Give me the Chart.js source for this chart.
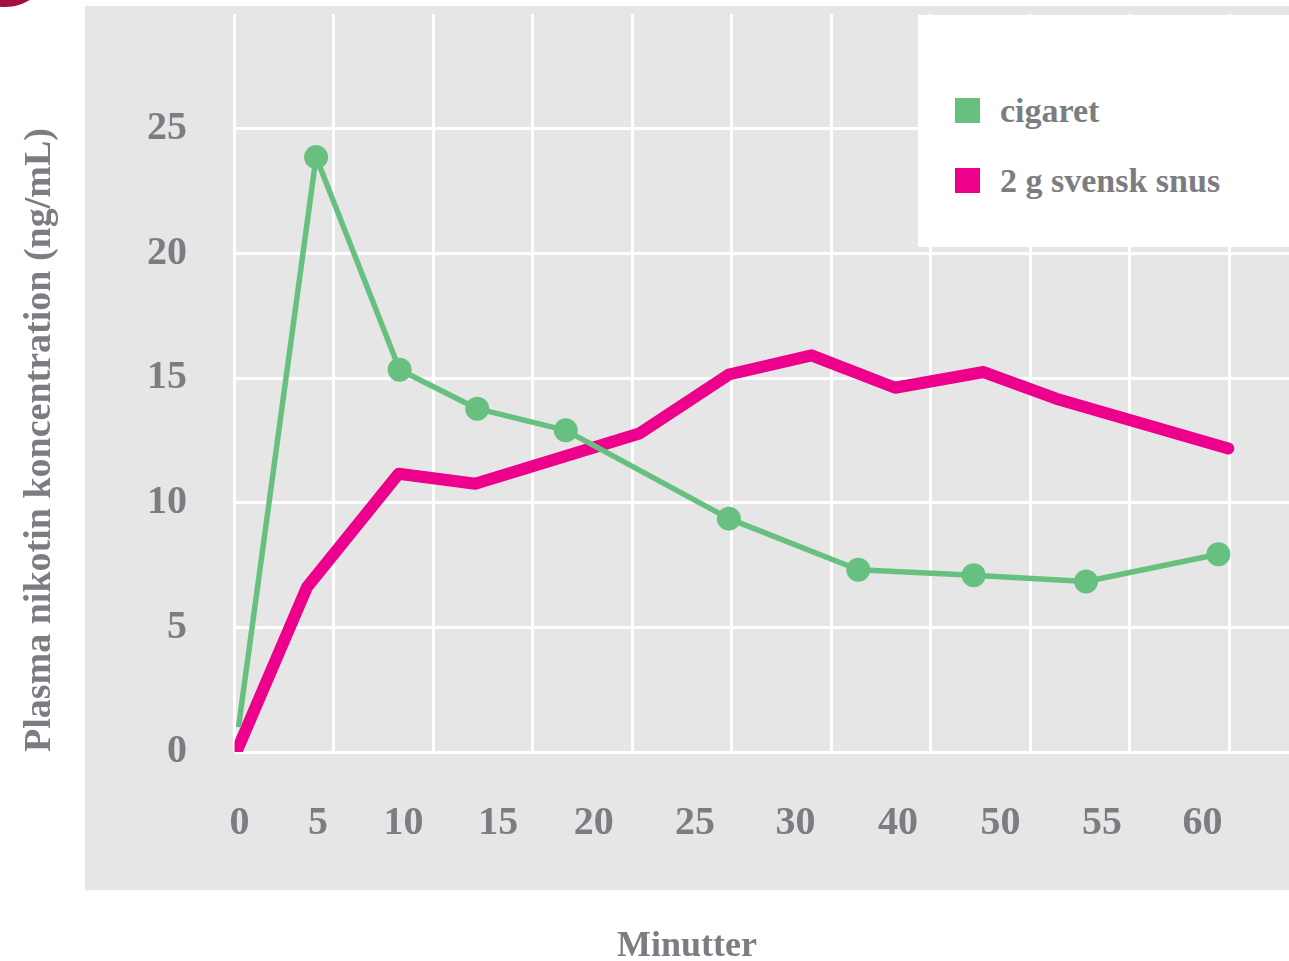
<!DOCTYPE html>
<html lang="da">
<head>
<meta charset="utf-8">
<title>Plasma nikotin koncentration</title>
<script src="https://cdn.jsdelivr.net/npm/chart.js@4.4.1/dist/chart.umd.min.js"></script>
<style>
  html, body { margin: 0; padding: 0; background: #ffffff; }
  #wrap { position: relative; width: 1289px; height: 961px; overflow: hidden; }
  #legend {
    position: absolute; left: 918px; top: 15px; width: 371px; height: 232px;
    background: #ffffff;
    font-family: "Liberation Serif", serif; font-weight: bold; font-size: 34px;
    color: #7c7d82;
  }
  .item { position: absolute; left: 37px; height: 25px; line-height: 25px; white-space: nowrap; }
  .swatch { position: absolute; left: 0; top: 0; width: 25px; height: 25px; }
  .label { position: absolute; left: 45px; top: 0; }
</style>
</head>
<body>
<div id="wrap">
  <canvas id="chart" width="1289" height="961"></canvas>
  <div id="legend"></div>
</div>
<script>
"use strict";

// Axis labels (x labels sit at their own spots along the grid)
const tickLabels = ["0", "5", "10", "15", "20", "25", "30", "40", "50", "55", "60"];
const tickAt = [0.05, 0.84, 1.70, 2.65, 3.61, 4.63, 5.64, 6.67, 7.70, 8.72, 9.73];

// Series, x in grid columns, y in ng/mL
const cigaretX = [0.04, 0.82, 1.66, 2.44, 3.33, 4.97, 6.27, 7.43, 8.56, 9.89];
const cigaretY = [1.0, 23.86, 15.33, 13.77, 12.9, 9.36, 7.31, 7.09, 6.84, 7.93];

const snusX = [0.035, 0.73, 1.65, 2.42, 4.07, 4.97, 5.8, 6.64, 7.53, 8.26, 9.99];
const snusY = [0.15, 6.62, 11.16, 10.76, 12.77, 15.14, 15.91, 14.61, 15.24, 14.17, 12.17];

// Style
const GREEN = "#67c07f";
const PINK = "#ec008c";
const PANEL = "#e6e6e6";
const TEXT = "#7c7d82";
const FONT = "'Liberation Serif', serif";

const toPoints = (xs, ys) => xs.map((x, i) => ({ x: x, y: ys[i] }));

// tick padding would otherwise push the plot area in
const noEdgePadding = (s) => {
  s.paddingTop = 0;
  s.paddingBottom = 0;
  s.paddingLeft = 0;
  s.paddingRight = 0;
};

// grey panel behind the plot + the cropped corner mark
const backdrop = {
  id: "backdrop",
  beforeDraw(chart) {
    const c = chart.ctx;
    const area = chart.chartArea;
    const left = chart.scales.y.left;
    const bottom = chart.scales.xl.bottom - 22;
    c.save();
    c.fillStyle = PANEL;
    c.fillRect(left, area.top - 8, chart.width - left, bottom - (area.top - 8));
    c.fillStyle = "#a3103f";
    c.beginPath();
    c.arc(5, -40, 47, 0, Math.PI * 2);
    c.fill();
    c.restore();
  },
};

// legend as html, filled from the datasets
const htmlLegend = {
  id: "htmlLegend",
  afterUpdate(chart) {
    const box = document.getElementById("legend");
    box.innerHTML = "";
    chart.data.datasets.forEach((ds, i) => {
      const item = document.createElement("div");
      item.className = "item";
      item.style.top = (83 + i * 70) + "px";
      const sw = document.createElement("span");
      sw.className = "swatch";
      sw.style.background = ds.borderColor;
      const lb = document.createElement("span");
      lb.className = "label";
      lb.textContent = ds.label;
      item.appendChild(sw);
      item.appendChild(lb);
      box.appendChild(item);
    });
  },
};

const ctx = document.getElementById("chart");

new Chart(ctx, {
  type: "line",
  data: {
    datasets: [
      {
        label: "cigaret",
        data: toPoints(cigaretX, cigaretY),
        borderColor: GREEN,
        backgroundColor: GREEN,
        borderWidth: 5.5,
        borderJoinStyle: "round",
        pointRadius: (c) => (c.dataIndex === 0 ? 0 : 12),
        pointBorderWidth: 0,
        pointHoverRadius: 12,
        tension: 0,
        clip: 0,
      },
      {
        label: "2 g svensk snus",
        data: toPoints(snusX, snusY),
        borderColor: PINK,
        backgroundColor: PINK,
        borderWidth: 12,
        borderJoinStyle: "round",
        borderCapStyle: "round",
        pointRadius: 0,
        tension: 0,
        clip: 0,
      },
    ],
  },
  options: {
    responsive: false,
    animation: false,
    devicePixelRatio: 1,
    layout: { autoPadding: false, padding: { left: 85, top: 14, right: 0, bottom: 0 } },
    plugins: {
      legend: { display: false },
      tooltip: { enabled: false },
      title: {
        display: true,
        text: "Minutter",
        position: "bottom",
        color: TEXT,
        font: { family: FONT, size: 36, weight: "bold", lineHeight: 0.8 },
        padding: { top: 20, bottom: 0 },
      },
    },
    scales: {
      x: {
        type: "linear",
        position: "bottom",
        min: 0,
        max: 10.6,
        ticks: { display: false, stepSize: 1 },
        grid: { color: "#ffffff", lineWidth: 3, drawTicks: false },
        border: { display: false },
        afterBuildTicks: (s) => {
          s.ticks = s.ticks.filter((t) => Number.isInteger(t.value));
        },
        afterFit: (s) => {
          s.height = 0;
          noEdgePadding(s);
        },
      },
      xl: {
        type: "linear",
        position: "bottom",
        min: 0,
        max: 10.6,
        grid: { display: false, drawTicks: false },
        border: { display: false },
        ticks: {
          autoSkip: false,
          maxRotation: 0,
          padding: 48,
          color: TEXT,
          font: { family: FONT, size: 40, weight: "bold" },
          callback: (v, i) => tickLabels[i],
        },
        afterBuildTicks: (s) => {
          s.ticks = tickAt.map((v) => ({ value: v }));
        },
        afterFit: (s) => {
          s.height = 160.2;
          noEdgePadding(s);
        },
      },
      y: {
        min: 0,
        max: 29.6,
        ticks: {
          stepSize: 5,
          padding: 47.5,
          color: TEXT,
          font: { family: FONT, size: 40, weight: "bold" },
        },
        grid: { color: "#ffffff", lineWidth: 3, drawTicks: false },
        border: { display: false },
        title: {
          display: true,
          text: "Plasma nikotin koncentration (ng/mL)",
          align: "start",
          color: TEXT,
          font: { family: FONT, size: 38, weight: "bold" },
          padding: { top: -68, bottom: 0 },
        },
        afterBuildTicks: (s) => {
          s.ticks = s.ticks.filter((t) => t.value % 5 === 0);
        },
        afterFit: (s) => {
          s.width = 149.5;
          noEdgePadding(s);
        },
      },
    },
  },
  plugins: [backdrop, htmlLegend],
});
</script>
</body>
</html>
